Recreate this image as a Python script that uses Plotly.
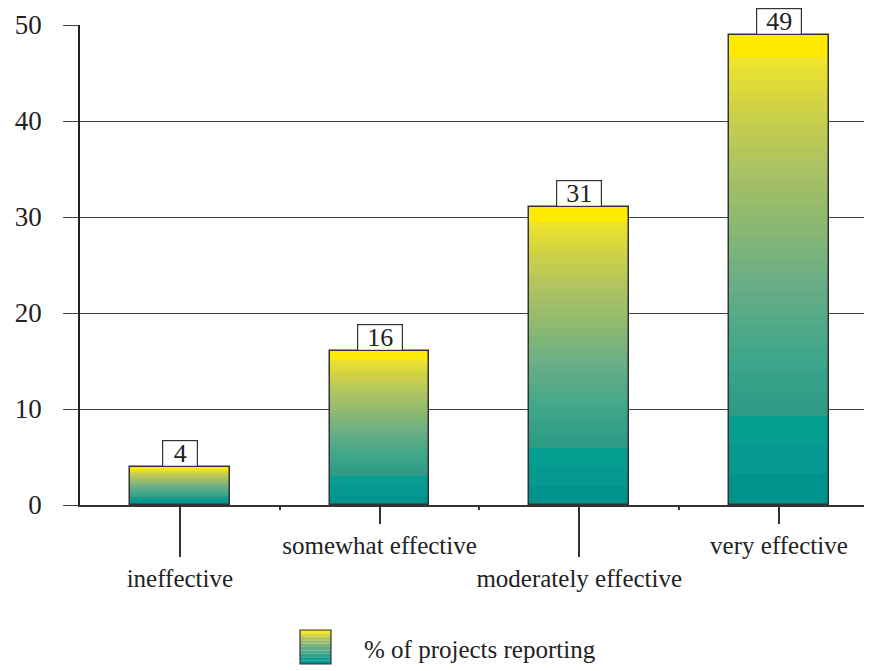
import plotly.graph_objects as go

categories = ["ineffective", "somewhat effective", "moderately effective", "very effective"]
values = [4, 16, 31, 49]
y_ticks = [0, 10, 20, 30, 40, 50]
legend_label = "% of projects reporting"

FONT = "Liberation Serif"
DARK = "#333333"

# gradient stops (fraction of bar height -> rgb)
STOPS = [
    (0.00, (0, 146, 142)),
    (0.19, (8, 160, 147)),
    (0.192, (46, 154, 133)),
    (0.30, (58, 165, 138)),
    (0.48, (108, 174, 134)),
    (0.60, (140, 184, 112)),
    (0.72, (172, 194, 98)),
    (0.84, (206, 209, 70)),
    (0.94, (236, 226, 45)),
    (0.955, (255, 234, 0)),
    (1.00, (255, 236, 0)),
]


def color_at(f):
    for (f0, c0), (f1, c1) in zip(STOPS[:-1], STOPS[1:]):
        if f0 <= f <= f1:
            t = 0 if f1 == f0 else (f - f0) / (f1 - f0)
            c = [round(a + (b - a) * t) for a, b in zip(c0, c1)]
            return "rgb(%d,%d,%d)" % tuple(c)
    return "rgb(%d,%d,%d)" % STOPS[-1][1]


edges = [0.0, 0.065, 0.13, 0.19]
NB = 34
edges += [0.19 + (1 - 0.19) * (k + 1) / NB for k in range(NB)]

x_pos = list(range(len(categories)))
fig = go.Figure()

for a, b in zip(edges[:-1], edges[1:]):
    mid = (a + b) / 2
    fig.add_trace(go.Bar(
        x=x_pos,
        y=[v * (b - a) for v in values],
        base=[v * a for v in values],
        width=0.5,
        marker=dict(color=color_at(mid), line=dict(width=0)),
        showlegend=False,
        hoverinfo="skip",
    ))

# outline
fig.add_trace(go.Bar(
    x=x_pos, y=values, width=0.5,
    marker=dict(color="rgba(0,0,0,0)", line=dict(color=DARK, width=1.5)),
    showlegend=False,
))

# invisible trace so the second x axis is drawn
fig.add_trace(go.Scatter(x=[0, 2], y=[0, 0], xaxis="x2", mode="markers",
                         marker=dict(opacity=0), showlegend=False, hoverinfo="skip"))

# value labels
for i, v in enumerate(values):
    fig.add_annotation(
        x=i, y=v, xref="x", yref="y", text=str(v), showarrow=False,
        yanchor="bottom", yshift=0,
        font=dict(family=FONT, size=26, color="#222"),
        bgcolor="white", bordercolor=DARK, borderwidth=1.2, borderpad=0,
        width=34 if v < 10 else 44, height=25,
    )

XR = [-0.5, 3.466]

# page body has an 8px margin: plot area spans page px x 80..872, y 25..505
PW, PH = 792, 480
sx0, sx1 = (300 - 80) / PW, (331 - 80) / PW
sy_top, sy_bot = (505 - 630) / PH, (505 - 664) / PH
nsw = 10
for k in range(nsw):
    fa, fb = k / nsw, (k + 1) / nsw
    fig.add_shape(type="rect", xref="paper", yref="paper",
                  x0=sx0, x1=sx1,
                  y0=sy_bot + (sy_top - sy_bot) * fa,
                  y1=sy_bot + (sy_top - sy_bot) * fb,
                  fillcolor=color_at((fa + fb) / 2), line=dict(width=0), layer="above")
fig.add_shape(type="rect", xref="paper", yref="paper", x0=sx0, x1=sx1,
              y0=sy_bot, y1=sy_top, line=dict(color=DARK, width=1.2), layer="above")
fig.add_annotation(xref="paper", yref="paper", x=(362 - 80) / PW, y=(505 - 649) / PH,
                   xanchor="left", yanchor="middle", text=legend_label, showarrow=False,
                   font=dict(family=FONT, size=25, color="#222"))

fig.update_layout(
    width=864, height=663,
    margin=dict(l=72, r=0, t=17, b=166),
    paper_bgcolor="white", plot_bgcolor="white",
    barmode="overlay", bargap=0,
    font=dict(family=FONT, color="#222"),
    showlegend=False,
    xaxis=dict(
        range=XR, tickmode="array", automargin=False,
        tickvals=[1, 3], ticktext=[categories[1], categories[3]],
        ticks="outside", ticklen=17, tickwidth=1.5, tickcolor=DARK,
        tickfont=dict(family=FONT, size=25, color="#222"),
        showline=True, linecolor=DARK, linewidth=1.5, showgrid=False, zeroline=False,
        minor=dict(tickmode="array", tickvals=[0.5, 1.5, 2.5], ticks="outside",
                   ticklen=3, tickwidth=2, tickcolor=DARK),
    ),
    xaxis2=dict(
        range=XR, overlaying="x", anchor="y", side="bottom", tickmode="array",
        automargin=False,
        tickvals=[0, 2], ticktext=[categories[0], categories[2]],
        ticks="outside", ticklen=51, tickwidth=1.5, tickcolor=DARK,
        tickfont=dict(family=FONT, size=25, color="#222"),
        showline=False, showgrid=False, zeroline=False,
    ),
    yaxis=dict(
        range=[0, 50], tickmode="array", tickvals=y_ticks, automargin=False,
        ticks="outside", ticklen=15, tickwidth=1.3, tickcolor="#444",
        ticklabelstandoff=16,
        tickfont=dict(family=FONT, size=27, color="#222"),
        showgrid=True, gridcolor="#444", gridwidth=1.3,
        showline=True, linecolor="#222", linewidth=1.5, zeroline=False,
    ),
)

fig.write_html("out.html")
